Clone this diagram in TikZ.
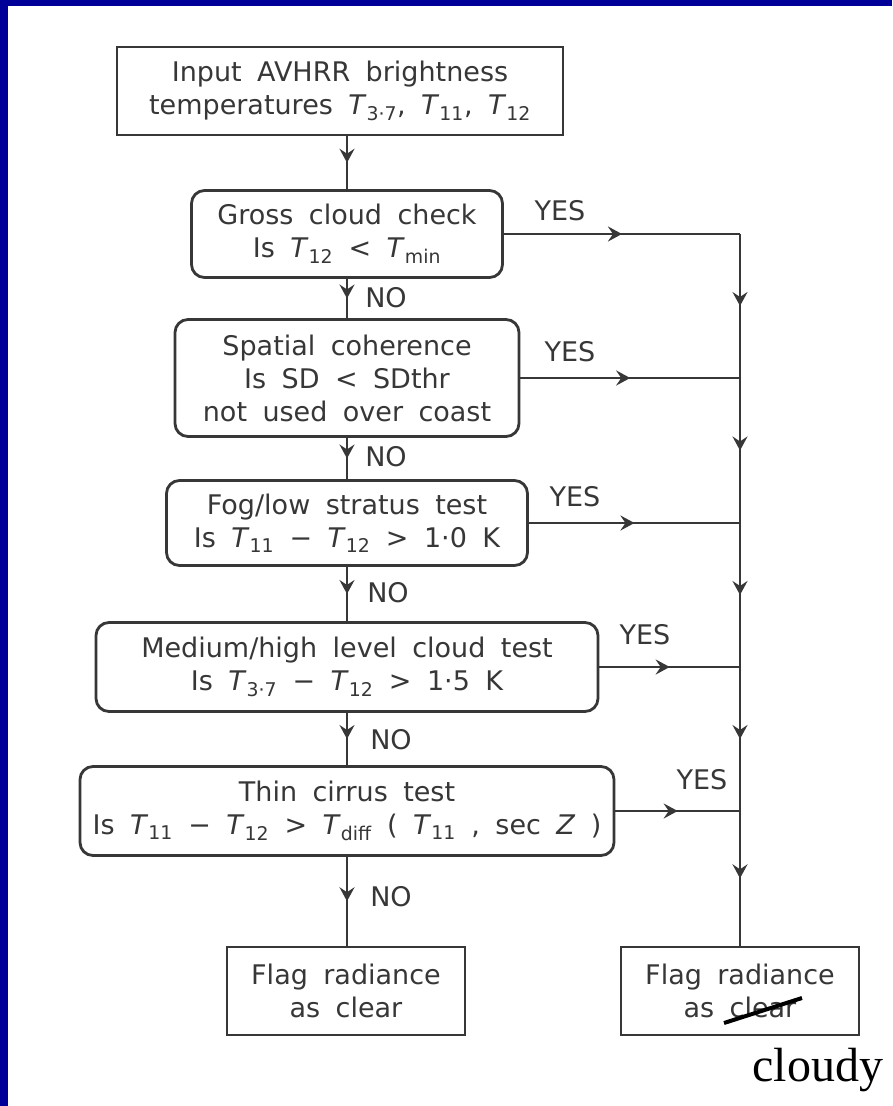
\documentclass[tikz,border=0pt]{standalone}
\usepackage{fontspec}
\setmainfont{DejaVu Sans}[WordSpace=1.8]
\newfontfamily\handfont{Liberation Serif}
\usetikzlibrary{arrows.meta,decorations.markings}
\definecolor{ink}{RGB}{55,55,55}
\definecolor{frame}{RGB}{0,0,153}

\begin{document}
\begin{tikzpicture}[x=1pt,y=1pt]
\tikzstyle{every node}+=[inner sep=0pt, text=ink, font=\fontsize{27}{33}\selectfont]
\tikzstyle{sq}=[draw=ink, line width=2.8pt, align=center]
\tikzstyle{rnd}=[sq, rounded corners=13pt]
\tikzstyle{flow}=[draw=ink, line width=2.8pt, postaction={decorate}, decoration={markings, mark=at position 0.5 with {\arrow{Stealth[length=14pt,width=15pt,inset=5pt]}}}]
\fill [frame] (0,0) rectangle (892,-1106);
\fill [white] (8,-6) rectangle (892,-1106);
\node [sq, minimum width=446pt, minimum height=88pt] (input) at (340,-91) {Input AVHRR brightness\\temperatures \textit{T}\textsubscript{3·7}, \textit{T}\textsubscript{11}, \textit{T}\textsubscript{12}};
\node [rnd, minimum width=311pt, minimum height=87pt] (gross) at (347,-234) {Gross cloud check\\Is \textit{T}\textsubscript{12} < \textit{T}\textsubscript{min}};
\node [rnd, minimum width=344pt, minimum height=117pt] (spatial) at (347,-378) {Spatial coherence\\Is SD < SDthr\\not used over coast};
\node [rnd, minimum width=361pt, minimum height=85pt] (fog) at (347,-523) {Fog/low stratus test\\Is \textit{T}\textsubscript{11} − \textit{T}\textsubscript{12} > 1·0 K};
\node [rnd, minimum width=502pt, minimum height=89pt] (medium) at (347,-667) {Medium/high level cloud test\\Is \textit{T}\textsubscript{3·7} − \textit{T}\textsubscript{12} > 1·5 K};
\node [rnd, minimum width=534pt, minimum height=89pt] (cirrus) at (347,-811) {Thin cirrus test\\Is \textit{T}\textsubscript{11} − \textit{T}\textsubscript{12} > \textit{T}\textsubscript{diff} ( \textit{T}\textsubscript{11} , sec \textit{Z} )};
\node [sq, minimum width=238pt, minimum height=88pt] (clearL) at (346,-991) {Flag radiance\\as clear};
\node [sq, minimum width=238pt, minimum height=88pt] (clearR) at (740,-991) {Flag radiance\\as clear};
\draw [flow] (input.south -| gross.north) -- (gross.north);
\draw [flow] (gross.south) -- (spatial.north);
\draw [flow] (spatial.south) -- (fog.north);
\draw [flow] (fog.south) -- (medium.north);
\draw [flow] (medium.south) -- (cirrus.north);
\draw [flow] (cirrus.south) -- (cirrus.south |- clearL.north);
\draw [flow] (gross.east) -- (gross.east -| clearR.north);
\draw [flow] (spatial.east) -- (spatial.east -| clearR.north);
\draw [flow] (fog.east) -- (fog.east -| clearR.north);
\draw [flow] (medium.east) -- (medium.east -| clearR.north);
\draw [flow] (cirrus.east) -- (cirrus.east -| clearR.north);
\draw [flow] (gross.east -| clearR.north) -- (spatial.east -| clearR.north);
\draw [flow] (spatial.east -| clearR.north) -- (fog.east -| clearR.north);
\draw [flow] (fog.east -| clearR.north) -- (medium.east -| clearR.north);
\draw [flow] (medium.east -| clearR.north) -- (cirrus.east -| clearR.north);
\draw [flow] (cirrus.east -| clearR.north) -- (clearR.north);
\node (no1) at (386,-298) {NO};
\node (no2) at (386,-457) {NO};
\node (no3) at (388,-593) {NO};
\node (no4) at (391,-740) {NO};
\node (no5) at (391,-897) {NO};
\node (yes1) at (560,-211) {YES};
\node (yes2) at (570,-352) {YES};
\node (yes3) at (575,-497) {YES};
\node (yes4) at (645,-635) {YES};
\node (yes5) at (702,-780) {YES};
\draw [black, line width=4pt] (724,-1023) -- (802,-998);
\node [text=black, font=\handfont\fontsize{48}{48}\selectfont] (cloudy) at (818,-1070) {cloudy};
\end{tikzpicture}
\end{document}
